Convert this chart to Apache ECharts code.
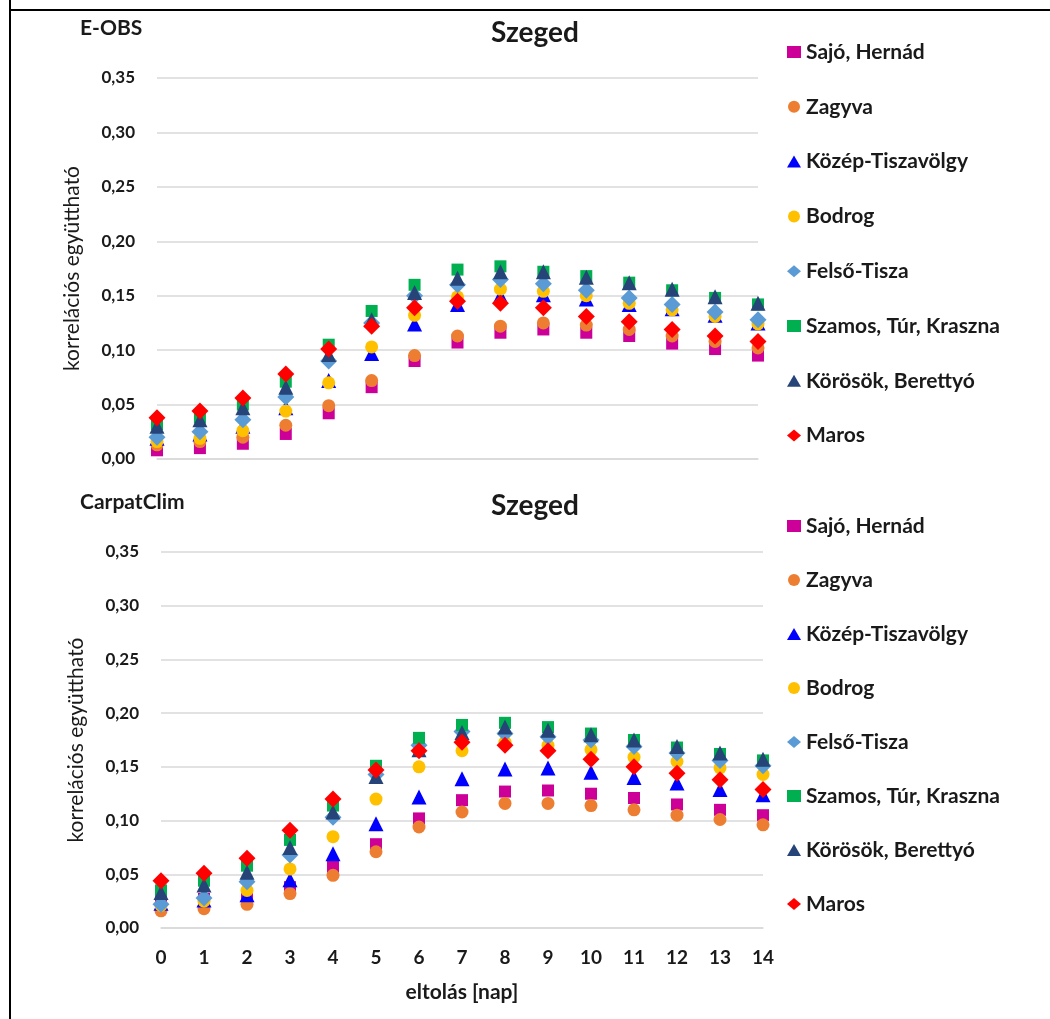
<!DOCTYPE html>
<html>
<head>
<meta charset="utf-8">
<script src="https://cdn.jsdelivr.net/npm/echarts@6/dist/echarts.min.js"></script>
<style>
  html, body { margin: 0; padding: 0; background: #fff; }
  #chart { width: 1050px; height: 1019px; }
</style>
</head>
<body>
<div id="chart"></div>
<script>
// Lag in days
const lags = [0, 1, 2, 3, 4, 5, 6, 7, 8, 9, 10, 11, 12, 13, 14];

const seriesNames = ['Sajó, Hernád', 'Zagyva', 'Közép-Tiszavölgy', 'Bodrog',
  'Felső-Tisza', 'Szamos, Túr, Kraszna', 'Körösök, Berettyó', 'Maros'];

// E-OBS correlation coefficients (Szeged)
const eobsSajo    = [0.008, 0.010, 0.014, 0.023, 0.042, 0.066, 0.090, 0.107, 0.116, 0.119, 0.116, 0.113, 0.106, 0.101, 0.095];
const eobsZagyva  = [0.013, 0.016, 0.020, 0.031, 0.049, 0.072, 0.095, 0.113, 0.122, 0.125, 0.123, 0.119, 0.113, 0.108, 0.102];
const eobsKozep   = [0.019, 0.023, 0.030, 0.047, 0.072, 0.097, 0.124, 0.142, 0.150, 0.151, 0.147, 0.142, 0.138, 0.132, 0.125];
const eobsBodrog  = [0.016, 0.019, 0.026, 0.044, 0.070, 0.103, 0.132, 0.149, 0.156, 0.154, 0.150, 0.143, 0.137, 0.131, 0.124];
const eobsFelso   = [0.020, 0.025, 0.036, 0.057, 0.090, 0.125, 0.150, 0.160, 0.165, 0.161, 0.155, 0.148, 0.142, 0.135, 0.128];
const eobsSzamos  = [0.032, 0.038, 0.050, 0.071, 0.105, 0.136, 0.160, 0.174, 0.177, 0.172, 0.168, 0.162, 0.155, 0.148, 0.142];
const eobsKorosok = [0.030, 0.036, 0.047, 0.066, 0.096, 0.128, 0.153, 0.166, 0.172, 0.172, 0.167, 0.162, 0.156, 0.149, 0.143];
const eobsMaros   = [0.038, 0.044, 0.056, 0.078, 0.101, 0.122, 0.139, 0.145, 0.143, 0.139, 0.131, 0.126, 0.119, 0.113, 0.108];

// CarpatClim correlation coefficients (Szeged)
const ccSajo    = [0.026, 0.027, 0.029, 0.038, 0.057, 0.078, 0.102, 0.119, 0.127, 0.128, 0.125, 0.121, 0.115, 0.110, 0.105];
const ccZagyva  = [0.016, 0.018, 0.022, 0.032, 0.049, 0.071, 0.094, 0.108, 0.116, 0.116, 0.114, 0.110, 0.105, 0.101, 0.096];
const ccKozep   = [0.023, 0.026, 0.031, 0.045, 0.069, 0.097, 0.122, 0.139, 0.148, 0.149, 0.145, 0.140, 0.135, 0.129, 0.124];
const ccBodrog  = [0.021, 0.025, 0.035, 0.055, 0.085, 0.120, 0.150, 0.165, 0.173, 0.170, 0.166, 0.159, 0.155, 0.149, 0.143];
const ccFelso   = [0.022, 0.028, 0.043, 0.068, 0.103, 0.143, 0.170, 0.183, 0.181, 0.178, 0.175, 0.169, 0.163, 0.156, 0.151];
const ccSzamos  = [0.035, 0.044, 0.058, 0.082, 0.114, 0.151, 0.177, 0.189, 0.191, 0.187, 0.181, 0.175, 0.168, 0.162, 0.156];
const ccKorosok = [0.033, 0.040, 0.052, 0.075, 0.108, 0.141, 0.166, 0.182, 0.187, 0.184, 0.180, 0.175, 0.169, 0.163, 0.157];
const ccMaros   = [0.044, 0.051, 0.065, 0.091, 0.120, 0.147, 0.165, 0.173, 0.170, 0.165, 0.157, 0.150, 0.144, 0.138, 0.129];

const styles = [
  { color: '#CC0099', symbol: 'rect', size: 12 },
  { color: '#ED7D31', symbol: 'circle', size: 13 },
  { color: '#0000FF', symbol: 'triangle', size: 15 },
  { color: '#FFC000', symbol: 'circle', size: 13 },
  { color: '#5B9BD5', symbol: 'diamond', size: 17 },
  { color: '#00B050', symbol: 'rect', size: 12 },
  { color: '#264478', symbol: 'triangle', size: 15 },
  { color: '#FF0000', symbol: 'diamond', size: 17 }
];

const eobsSets = [eobsSajo, eobsZagyva, eobsKozep, eobsBodrog, eobsFelso, eobsSzamos, eobsKorosok, eobsMaros];
const ccSets = [ccSajo, ccZagyva, ccKozep, ccBodrog, ccFelso, ccSzamos, ccKorosok, ccMaros];

const FONT = 'Lato';
const INK = '#1a1a1a';
const GRID_GRAY = '#D9D9D9';

function buildSeries(sets, idx) {
  return sets.map((vals, i) => ({
    name: seriesNames[i],
    type: 'scatter',
    xAxisIndex: idx,
    yAxisIndex: idx,
    symbol: styles[i].symbol,
    symbolSize: styles[i].size,
    itemStyle: { color: styles[i].color, opacity: 1 },
    data: lags.map((d, k) => [d, vals[k]])
  }));
}

function yAxisDef(idx) {
  return {
    gridIndex: idx,
    type: 'value',
    min: 0,
    max: 0.35,
    interval: 0.05,
    name: 'korrelációs együttható',
    nameLocation: 'middle',
    nameGap: 74,
    nameTextStyle: { fontFamily: FONT, fontSize: 21, color: INK },
    axisLine: { show: false },
    axisTick: { show: false },
    axisLabel: {
      margin: 22,
      fontFamily: FONT, fontSize: 17, fontWeight: 'bold', color: INK,
      formatter: v => v.toFixed(2).replace('.', ',')
    },
    splitLine: { lineStyle: { color: GRID_GRAY, width: 1.5 } }
  };
}

function xAxisDef(idx, showLabels) {
  return {
    gridIndex: idx,
    type: 'value',
    min: 0,
    max: 14,
    interval: 1,
    name: showLabels ? 'eltolás [nap]' : '',
    nameLocation: 'middle',
    nameGap: 54,
    nameTextStyle: { fontFamily: FONT, fontSize: 21, fontWeight: 'bold', color: INK },
    axisLine: { show: true, lineStyle: { color: GRID_GRAY, width: 1.5 } },
    axisTick: { show: false },
    splitLine: { show: false },
    axisLabel: {
      show: showLabels, margin: 20,
      fontFamily: FONT, fontSize: 19, fontWeight: 'bold', color: INK
    }
  };
}

function legendDef(top, gap) {
  return {
    orient: 'vertical',
    left: 787,
    top: top,
    padding: 0,
    itemGap: gap,
    itemWidth: 14,
    itemHeight: 12,
    data: seriesNames,
    textStyle: { fontFamily: FONT, fontSize: 21, fontWeight: 'bold', color: INK, lineHeight: 22 }
  };
}

const chart = echarts.init(document.getElementById('chart'), null, { renderer: 'canvas' });

chart.setOption({
  animation: false,
  backgroundColor: '#fff',
  textStyle: { fontFamily: FONT },
  title: [
    { text: 'Szeged', left: 535, top: 19, textAlign: 'center', padding: 0,
      textStyle: { fontFamily: FONT, fontSize: 28, fontWeight: 'bold', color: INK } },
    { text: 'E-OBS', left: 80, top: 18, padding: 0,
      textStyle: { fontFamily: FONT, fontSize: 21, fontWeight: 'bold', color: INK } },
    { text: 'Szeged', left: 535, top: 492, textAlign: 'center', padding: 0,
      textStyle: { fontFamily: FONT, fontSize: 28, fontWeight: 'bold', color: INK } },
    { text: 'CarpatClim', left: 80, top: 492, padding: 0,
      textStyle: { fontFamily: FONT, fontSize: 21, fontWeight: 'bold', color: INK } }
  ],
  legend: [legendDef(41, 32.8), legendDef(515, 32)],
  grid: [
    { left: 157, right: 292, top: 78, bottom: 560 },
    { left: 161, right: 287, top: 552, bottom: 91 }
  ],
  xAxis: [xAxisDef(0, false), xAxisDef(1, true)],
  yAxis: [yAxisDef(0), yAxisDef(1)],
  graphic: [
    { type: 'line', shape: { x1: 10, y1: 0, x2: 10, y2: 1019 }, style: { stroke: '#000', lineWidth: 2 }, silent: true },
    { type: 'line', shape: { x1: 9, y1: 10, x2: 1050, y2: 10 }, style: { stroke: '#000', lineWidth: 2 }, silent: true }
  ],
  series: buildSeries(eobsSets, 0).concat(buildSeries(ccSets, 1))
});
</script>
</body>
</html>
